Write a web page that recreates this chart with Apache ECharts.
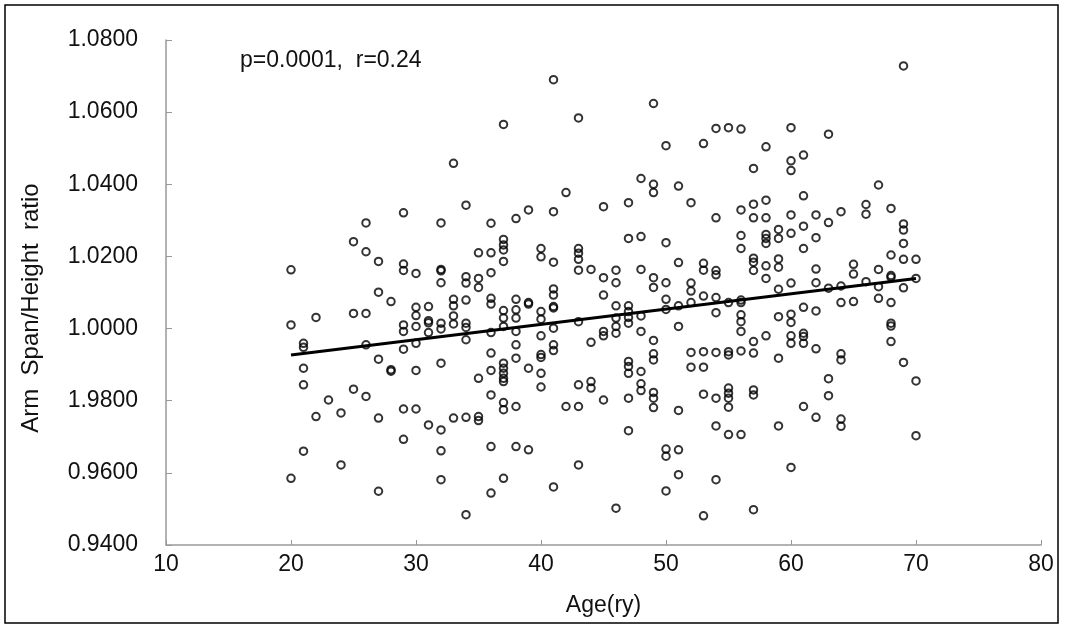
<!DOCTYPE html>
<html>
<head>
<meta charset="utf-8">
<script src="https://cdn.jsdelivr.net/npm/echarts@6/dist/echarts.min.js"></script>
<style>
  html, body { margin: 0; padding: 0; background: #fff; }
  #chart { width: 1068px; height: 627px; }
</style>
</head>
<body>
<div id="chart"></div>
<script>
// ---- data ----
const ages = [20,21,22,23,24,25,26,27,28,29,30,31,32,33,34,35,36,37,38,39,40,41,42,43,44,45,46,47,48,49,50,51,52,53,54,55,56,57,58,59,60,61,62,63,64,65,66,67,68,69,70];
const ratiosPerAge = [
  [1.0163, 1.0010, 0.9585],
  [0.9959, 0.9948, 0.9890, 0.9844, 0.9660],
  [1.0031, 0.9756],
  [0.9802],
  [0.9766, 0.9622],
  [1.0241, 1.0042, 0.9832],
  [1.0293, 1.0213, 1.0042, 0.9955, 0.9812],
  [1.0186, 1.0101, 0.9915, 0.9752, 0.9549],
  [1.0075, 0.9886, 0.9882],
  [1.0321, 1.0179, 1.0161, 1.0010, 0.9992, 0.9943, 0.9777, 0.9693],
  [1.0153, 1.0059, 1.0036, 1.0006, 0.9959, 0.9884, 0.9777],
  [1.0061, 1.0022, 1.0016, 0.9989, 0.9733],
  [1.0293, 1.0164, 1.0160, 1.0127, 1.0015, 0.9999, 0.9904, 0.9719, 0.9661, 0.9581],
  [1.0458, 1.0081, 1.0063, 1.0035, 1.0013, 0.9752],
  [1.0342, 1.0144, 1.0126, 1.0079, 1.0015, 1.0003, 0.9969, 0.9754, 0.9484],
  [1.0210, 1.0139, 1.0114, 0.9862, 0.9756, 0.9745],
  [1.0292, 1.0210, 1.0155, 1.0084, 1.0068, 0.9989, 0.9932, 0.9884, 0.9816, 0.9673, 0.9544],
  [1.0566, 1.0247, 1.0232, 1.0218, 1.0186, 1.0050, 1.0029, 1.0006, 0.9904, 0.9890, 0.9876, 0.9862, 0.9853, 0.9795, 0.9775, 0.9585],
  [1.0305, 1.0081, 1.0052, 1.0029, 0.9992, 0.9955, 0.9918, 0.9784, 0.9673],
  [1.0329, 1.0072, 1.0068, 0.9890, 0.9664],
  [1.0222, 1.0199, 1.0047, 1.0026, 0.9980, 0.9928, 0.9920, 0.9876, 0.9838],
  [1.0690, 1.0324, 1.0184, 1.0110, 1.0093, 1.0061, 1.0057, 1.0001, 0.9955, 0.9939, 0.9561],
  [1.0377, 0.9784],
  [1.0584, 1.0222, 1.0209, 1.0192, 1.0162, 1.0019, 0.9844, 0.9784, 0.9622],
  [1.0164, 0.9962, 0.9853, 0.9835],
  [1.0338, 1.0141, 1.0093, 0.9992, 0.9980, 0.9802],
  [1.0162, 1.0127, 1.0063, 1.0029, 1.0006, 0.9987, 0.9502],
  [1.0349, 1.0250, 1.0063, 1.0047, 1.0031, 1.0015, 0.9909, 0.9895, 0.9876, 0.9807, 0.9717],
  [1.0416, 1.0255, 1.0164, 1.0035, 0.9992, 0.9881, 0.9847, 0.9828],
  [1.0624, 1.0400, 1.0377, 1.0141, 1.0114, 0.9967, 0.9930, 0.9913, 0.9823, 0.9807, 0.9781],
  [1.0507, 1.0238, 1.0127, 1.0081, 1.0053, 0.9666, 0.9646, 0.9550],
  [1.0395, 1.0183, 1.0063, 1.0006, 0.9773, 0.9664, 0.9595],
  [1.0349, 1.0126, 1.0104, 1.0072, 0.9934, 0.9893],
  [1.0513, 1.0181, 1.0162, 1.0090, 0.9936, 0.9893, 0.9818, 0.9481],
  [1.0555, 1.0307, 1.0161, 1.0149, 1.0086, 1.0044, 0.9934, 0.9807, 0.9730, 0.9581],
  [1.0557, 1.0072, 0.9936, 0.9927, 0.9835, 0.9821, 0.9807, 0.9782, 0.9706],
  [1.0553, 1.0329, 1.0258, 1.0222, 1.0079, 1.0072, 1.0038, 1.0019, 0.9992, 0.9938, 0.9706],
  [1.0444, 1.0345, 1.0307, 1.0195, 1.0184, 1.0161, 0.9964, 0.9932, 0.9830, 0.9816, 0.9498],
  [1.0504, 1.0356, 1.0307, 1.0261, 1.0250, 1.0236, 1.0174, 1.0139, 0.9980],
  [1.0275, 1.0250, 1.0193, 1.0170, 1.0109, 1.0033, 0.9918, 0.9730],
  [1.0557, 1.0465, 1.0438, 1.0315, 1.0264, 1.0126, 1.0040, 1.0017, 0.9980, 0.9959, 0.9615],
  [1.0481, 1.0368, 1.0284, 1.0222, 1.0059, 0.9987, 0.9978, 0.9959, 0.9784],
  [1.0315, 1.0252, 1.0165, 1.0127, 1.0049, 0.9944, 0.9754],
  [1.0539, 1.0294, 1.0112, 0.9861, 0.9814],
  [1.0324, 1.0118, 1.0072, 0.9930, 0.9913, 0.9749, 0.9729],
  [1.0178, 1.0151, 1.0075],
  [1.0344, 1.0317, 1.0130],
  [1.0398, 1.0164, 1.0116, 1.0084],
  [1.0333, 1.0204, 1.0147, 1.0142, 1.0072, 1.0015, 1.0007, 0.9964],
  [1.0728, 1.0290, 1.0273, 1.0236, 1.0192, 1.0113, 0.9906],
  [1.0192, 1.0139, 0.9855, 0.9703]
];
const fitAges = [20, 70];
const fitRatios = [0.9927, 1.0139];
const yTickLabels = ['0.9400', '0.9600', '1.9800', '1.0000', '1.0200', '1.0400', '1.0600', '1.0800'];
const statText = 'p=0.0001,  r=0.24';
const xName = 'Age(ry)';
const yName = 'Arm  Span/Height  ratio';

// ---- build ----
const points = [];
ages.forEach((a, i) => ratiosPerAge[i].forEach(r => points.push([a, r])));
const fitLine = fitAges.map((a, i) => [a, fitRatios[i]]);

const FONT = "'Liberation Sans', Arial, Helvetica, sans-serif";
const chart = echarts.init(document.getElementById('chart'), null, { renderer: 'canvas' });
chart.setOption({
  animation: false,
  backgroundColor: '#fff',
  grid: { left: 166, right: 27, top: 40, bottom: 82 },
  xAxis: {
    type: 'value', min: 10, max: 80, interval: 10,
    name: xName, nameLocation: 'middle', nameGap: 49,
    nameTextStyle: { fontFamily: FONT, fontSize: 23, color: '#111' },
    axisLine: { show: true, lineStyle: { color: '#999', width: 1.5 } },
    axisTick: { show: true, inside: true, length: 5, lineStyle: { color: '#999' } },
    axisLabel: { fontFamily: FONT, fontSize: 23, color: '#111', margin: 8 },
    splitLine: { show: false }
  },
  yAxis: {
    type: 'value', min: 0.94, max: 1.08, interval: 0.02,
    axisLine: { show: true, lineStyle: { color: '#999', width: 1.5 } },
    axisTick: { show: true, inside: true, length: 6, lineStyle: { color: '#999' } },
    axisLabel: {
      fontFamily: FONT, fontSize: 23, color: '#111', margin: 28,
      formatter: v => yTickLabels[Math.round((v - 0.94) / 0.02)]
    },
    splitLine: { show: false }
  },
  series: [
    {
      type: 'scatter', data: points, symbol: 'circle', symbolSize: 7.5,
      itemStyle: { color: 'rgba(0,0,0,0)', borderColor: '#000', borderWidth: 2 },
      z: 2
    },
    {
      type: 'line', data: fitLine, symbol: 'none',
      lineStyle: { color: '#000', width: 3 }, z: 3
    }
  ],
  graphic: [
    { type: 'rect', shape: { x: 5, y: 5, width: 1053, height: 618 },
      style: { fill: 'none', stroke: '#000', lineWidth: 1.5 }, silent: true },
    { type: 'text', left: 240, top: 49,
      style: { text: statText, font: "23px 'Liberation Sans', Arial, sans-serif", fill: '#111' } },
    { type: 'text', x: 31, y: 308, rotation: Math.PI / 2,
      style: { text: yName, font: "24px 'Liberation Sans', Arial, sans-serif", fill: '#111',
               align: 'center', verticalAlign: 'middle' } }
  ]
});
</script>
</body>
</html>
